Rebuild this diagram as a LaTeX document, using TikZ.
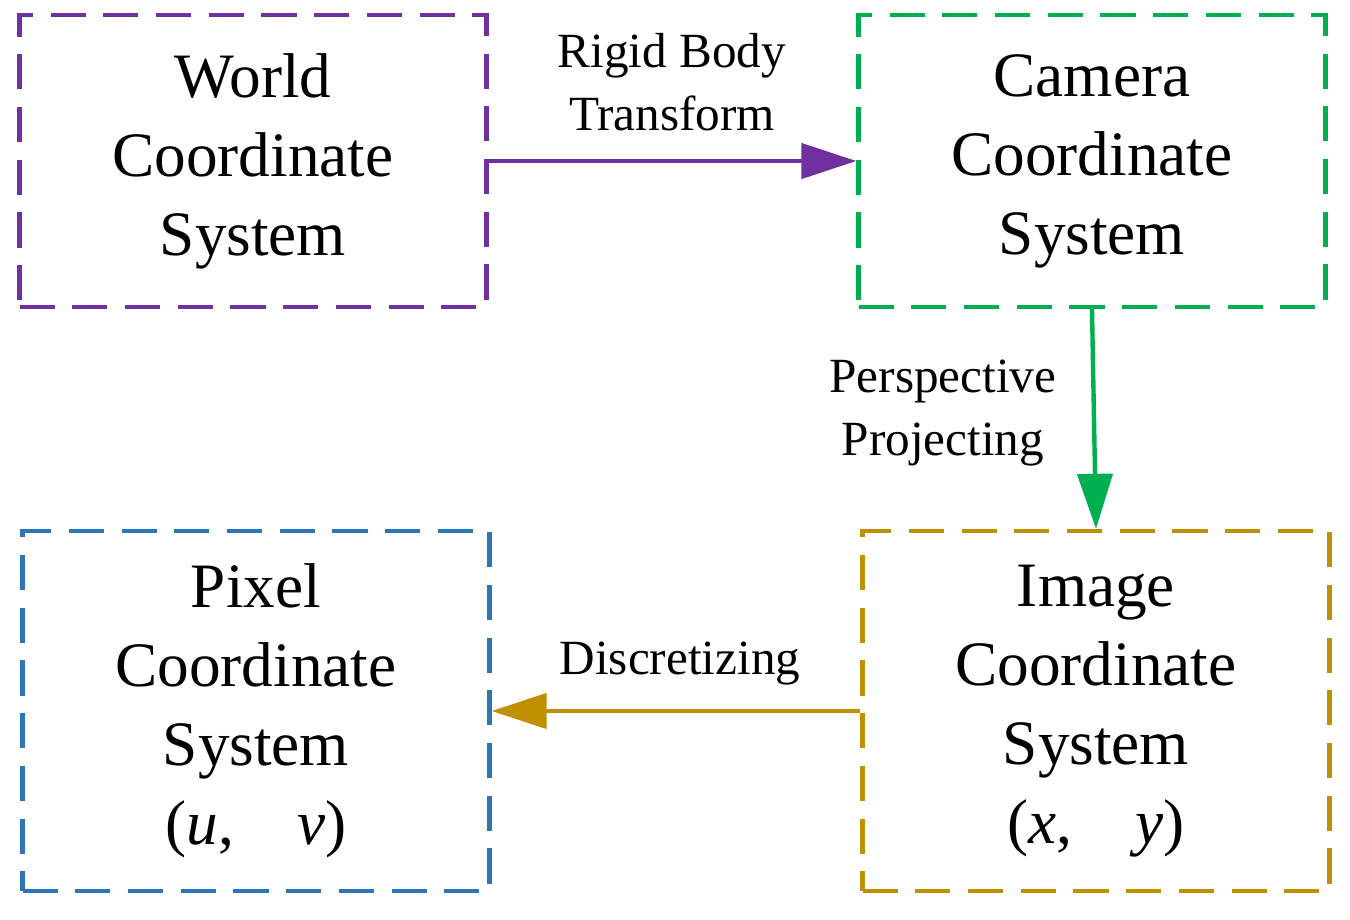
\documentclass[tikz,border=0pt]{standalone}
\usepackage{fontspec}
\setmainfont{Liberation Serif}
\usetikzlibrary{arrows.meta}
\definecolor{cpur}{RGB}{112,48,160}
\definecolor{cgrn}{RGB}{0,176,80}
\definecolor{cblu}{RGB}{46,117,182}
\definecolor{cgld}{RGB}{191,144,0}
\begin{document}
\begin{tikzpicture}[x=0.02cm,y=-0.02cm,
 box/.style={draw, line width=2.5pt, dash pattern=on 20pt off 10pt, minimum width=9.34cm, minimum height=5.84cm, align=center, font=\fontsize{36}{45}\selectfont, inner sep=0pt},
 bigbox/.style={box, minimum height=7.2cm},
 lab/.style={align=center, font=\fontsize{28}{36}\selectfont},
 arr/.style={line width=2.5pt, -{Triangle[length=1.1cm,width=0.7cm]}}]
\useasboundingbox (0,0) rectangle (1350,920);
\node[box, draw=cpur] (w) at (253,161) {World\\Coordinate\\System};
\node[box, draw=cgrn] (c) at (1092,161) {Camera\\Coordinate\\System};
\node[bigbox, draw=cblu] (p) at (256,711) {Pixel\\Coordinate\\System\\(\textit{u},\quad\textit{v})};
\node[bigbox, draw=cgld] (i) at (1096,711) {Image\\Coordinate\\System\\(\textit{x},\quad\textit{y})};
\draw[arr, cpur] (w.east) -- (c.west);
\draw[arr, cgrn] (c.south) -- (i.north);
\draw[arr, cgld] (i.west) -- (p.east);
\node[lab] (l1) at (672,82) {Rigid Body\\Transform};
\node[lab] (l2) at (943,413) {Perspective\\Projecting};
\node[lab] (l3) at (680,664) {Discretizing};
\end{tikzpicture}
\end{document}
